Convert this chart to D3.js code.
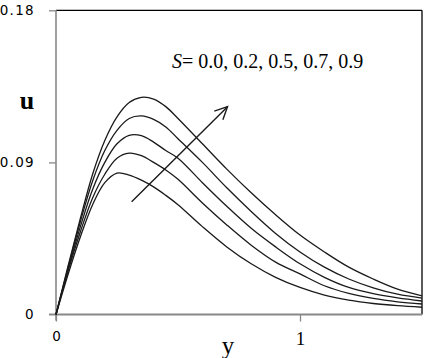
<!DOCTYPE html>
<html><head><meta charset="utf-8">
<script src="https://cdn.jsdelivr.net/npm/d3@7"></script>
<style>body{margin:0;background:#fff}svg{display:block}</style>
</head><body>
<script>
const xs = [0,0.05,0.1,0.15,0.2,0.25,0.3,0.35,0.4,0.45,0.5,0.6,0.7,0.8,0.9,1.0,1.1,1.2,1.3,1.4,1.5];
const uS00 = [0,0.029,0.057,0.083,0.103,0.117,0.1255,0.1285,0.1275,0.123,0.116,0.101,0.086,0.072,0.059,0.047,0.037,0.028,0.021,0.015,0.011];
const uS02 = [0,0.028,0.055,0.079,0.097,0.109,0.116,0.1175,0.1155,0.111,0.104,0.090,0.075,0.061,0.048,0.037,0.028,0.021,0.0158,0.012,0.0097];
const uS05 = [0,0.027,0.052,0.074,0.090,0.101,0.106,0.1058,0.102,0.097,0.0925,0.078,0.064,0.051,0.040,0.030,0.022,0.016,0.0123,0.0098,0.008];
const uS07 = [0,0.026,0.049,0.069,0.083,0.0925,0.0955,0.094,0.090,0.0855,0.080,0.066,0.053,0.041,0.031,0.024,0.017,0.0125,0.0095,0.0075,0.0062];
const uS09 = [0,0.024,0.046,0.065,0.078,0.0837,0.0825,0.0795,0.0755,0.0705,0.065,0.052,0.040,0.030,0.022,0.016,0.0115,0.0085,0.0065,0.0052,0.0043];
const series = [uS00,uS02,uS05,uS07,uS09];
const yTicks = [0,0.09,0.18];
const yTickLabels = ["0","0.09","0.18"];
const xTicks = [0,1];
const xTickLabels = ["0","1"];
const annotation = "= 0.0, 0.2, 0.5, 0.7, 0.9";

const W=429,H=358;
const svg=d3.select("body").append("svg").attr("width",W).attr("height",H);
const x=d3.scaleLinear().domain([0,1.5]).range([56,422]);
const y=d3.scaleLinear().domain([0,0.18]).range([314.5,10.3]);

// frame top/right
svg.append("line").attr("x1",x(0)).attr("x2",x(1.5)).attr("y1",y(0.18)).attr("y2",y(0.18)).attr("stroke","#000").attr("stroke-width",1.3);
svg.append("line").attr("x1",x(1.5)).attr("x2",x(1.5)).attr("y1",y(0.18)).attr("y2",y(0)).attr("stroke","#000").attr("stroke-width",1.3);

// axes
const gy=svg.append("g").attr("transform",`translate(${x(0)},0)`)
  .call(d3.axisLeft(y).tickValues(yTicks).tickFormat((d,i)=>yTickLabels[i]).tickSize(7).tickPadding(14));
const gx=svg.append("g").attr("transform",`translate(0,${y(0)})`)
  .call(d3.axisBottom(x).tickValues(xTicks).tickFormat((d,i)=>xTickLabels[i]).tickSize(7).tickPadding(10));
[gy,gx].forEach(g=>{
  g.select(".domain").attr("stroke","#888").attr("stroke-width",1.6);
  g.selectAll(".tick line").attr("stroke","#888").attr("stroke-width",1.3);
  g.selectAll(".tick text").attr("fill","#000").attr("font-family","DejaVu Sans").attr("font-size",13.5);
});
gy.selectAll(".tick text").attr("letter-spacing",1.3);
gx.select(".domain").attr("d",`M${x(0)-7},0H${x(1.5)}`).attr("stroke-width",2);
gy.select(".domain").attr("d",`M0,${y(0.18)}V${y(0)+6}`);
gy.selectAll(".tick").filter(d=>d===0).select("line").remove();
gx.selectAll(".tick").filter((d,i)=>i===1).select("text").attr("font-family","Liberation Serif").attr("font-size",19);

// curves
const line=d3.line().x((d,i)=>x(xs[i])).y(d=>y(d)).curve(d3.curveCatmullRom.alpha(0.5));
svg.append("g").selectAll("path").data(series).join("path")
  .attr("d",line).attr("fill","none").attr("stroke","#1a1a1a").attr("stroke-width",1.3);

// axis titles
svg.append("text").attr("x",27).attr("y",109).attr("text-anchor","middle")
  .attr("font-family","Liberation Serif").attr("font-weight","bold").attr("font-size",26).text("u");
svg.append("text").attr("x",228).attr("y",354).attr("text-anchor","middle")
  .attr("font-family","Liberation Serif").attr("font-size",25).text("y");

// annotation
const t=svg.append("text").attr("x",172).attr("y",68).attr("font-family","Liberation Serif").attr("font-size",20);
t.append("tspan").attr("font-style","italic").text("S");
t.append("tspan").text(annotation);

// arrow
const ax0=x(0.31),ay0=y(0.0667),ax1=x(0.703),ay1=y(0.123);
svg.append("line").attr("x1",ax0).attr("y1",ay0).attr("x2",ax1).attr("y2",ay1).attr("stroke","#1a1a1a").attr("stroke-width",1.4);
const ang=Math.atan2(ay1-ay0,ax1-ax0), L=14, sp=0.45;
const p1=[ax1-L*Math.cos(ang-sp),ay1-L*Math.sin(ang-sp)], p2=[ax1-L*Math.cos(ang+sp),ay1-L*Math.sin(ang+sp)];
svg.append("path").attr("d",`M${p1}L${ax1},${ay1}L${p2}`).attr("fill","none").attr("stroke","#1a1a1a").attr("stroke-width",1.4);
</script>
</body></html>
